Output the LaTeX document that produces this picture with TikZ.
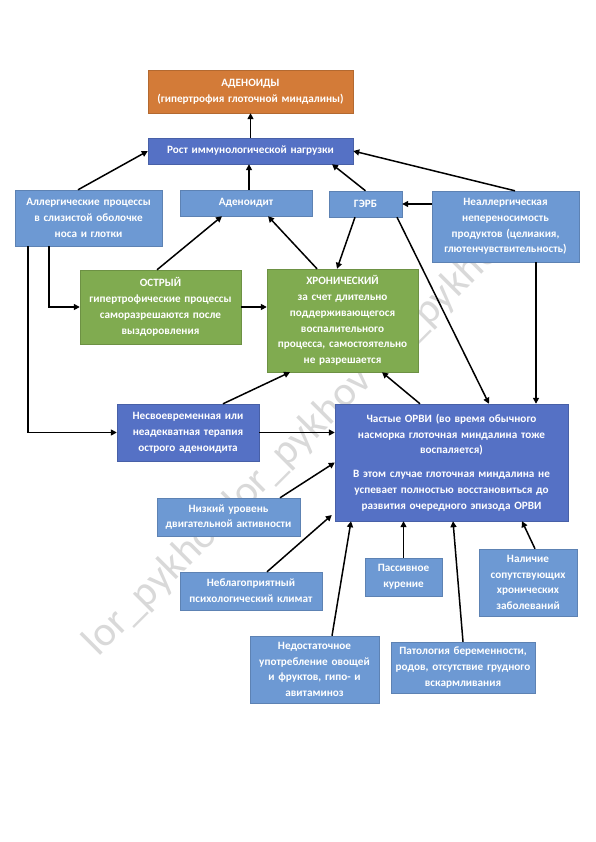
\documentclass[tikz,border=0pt]{standalone}
\usepackage{fontspec}
\setmainfont{Carlito}
\usetikzlibrary{arrows.meta}

\definecolor{orangebox}{HTML}{D37B38}
\definecolor{darkblue}{HTML}{5571C5}
\definecolor{lightblue}{HTML}{6D99D3}
\definecolor{greenbox}{HTML}{80AB50}

\begin{document}
\begin{tikzpicture}[x=1pt, y=-1pt,
    base/.style={inner sep=0pt, align=center, text=white,
        font=\bfseries\fontsize{11.2}{15.8}\selectfont},
    orangecell/.style={base, fill=orangebox, draw=orangebox!85!black, line width=0.4pt},
    darkcell/.style={base, fill=darkblue, draw=darkblue!85!black, line width=0.4pt},
    lightcell/.style={base, fill=lightblue, draw=lightblue!85!black, line width=0.4pt},
    greencell/.style={base, fill=greenbox, draw=greenbox!85!black, line width=0.4pt},
    link/.style={line width=1.5pt, -{Triangle[length=6pt,width=6pt]}}]

    \fill[white] (0,0) rectangle (595,842);
    \useasboundingbox (0,0) rectangle (595,842);

    % watermark
    \node[anchor=west, rotate=45, text=gray!30, inner sep=0pt,
        font=\fontsize{42}{42}\selectfont] (wm) at (90,650) {lor\_pykhov lor\_pykhov lor\_pykhov};

    % top
    \node[orangecell, minimum width=205, minimum height=43, text width=205] (aden) at (250.5,91.5)
        {АДЕНОИДЫ\\(гипертрофия глоточной миндалины)};
    \node[darkcell, minimum width=205, minimum height=26, text width=205] (rost) at (250.5,151)
        {Рост иммунологической нагрузки};

    % causes row
    \node[lightcell, minimum width=147, minimum height=56, text width=147] (allerg) at (88.5,218)
        {Аллергические процессы\\в слизистой оболочке\\носа и глотки};
    \node[lightcell, minimum width=132, minimum height=26, text width=132] (adenoidit) at (246,203)
        {Аденоидит};
    \node[lightcell, minimum width=73, minimum height=26, text width=73] (gerb) at (365.5,204)
        {ГЭРБ};
    \node[lightcell, minimum width=147, minimum height=71, text width=147] (neall) at (505.5,226.5)
        {Неаллергическая\\непереносимость\\продуктов (целиакия,\\глютенчувствительность)};

    % forms
    \node[greencell, minimum width=161, minimum height=74, text width=161] (ostr) at (160.5,307)
        {ОСТРЫЙ\\гипертрофические процессы\\саморазрешаются после\\выздоровления};
    \node[greencell, minimum width=151, minimum height=103, text width=151] (hron) at (342.5,320.5)
        {ХРОНИЧЕСКИЙ\\за счет длительно\\поддерживающегося\\воспалительного\\процесса, самостоятельно\\не разрешается};

    % middle
    \node[darkcell, minimum width=142, minimum height=57, text width=142] (nesv) at (188,432.5)
        {Несвоевременная или\\неадекватная терапия\\острого аденоидита};
    \node[darkcell, minimum width=233, minimum height=117, text width=233] (orvi) at (451.5,462.5)
        {Частые ОРВИ (во время обычного\\насморка глоточная миндалина тоже\\воспаляется)\\[8pt]
        В этом случае глоточная миндалина не\\успевает полностью восстановиться до\\развития очередного эпизода ОРВИ};

    % risk factors
    \node[lightcell, minimum width=143, minimum height=38, text width=143] (nizk) at (228.5,517)
        {Низкий уровень\\двигательной активности};
    \node[lightcell, minimum width=142, minimum height=38, text width=142] (nebl) at (251,591)
        {Неблагоприятный\\психологический климат};
    \node[lightcell, minimum width=129, minimum height=67, text width=129] (nedost) at (314.5,669.5)
        {Недостаточное\\употребление овощей\\и фруктов, гипо- и\\авитаминоз};
    \node[lightcell, minimum width=77, minimum height=38, text width=77] (pass) at (403.5,577)
        {Пассивное\\курение};
    \node[lightcell, minimum width=144, minimum height=51, text width=144] (patol) at (463,667.5)
        {Патология беременности,\\родов, отсутствие грудного\\вскармливания};
    \node[lightcell, minimum width=98, minimum height=67, text width=98] (nalich) at (528,582.5)
        {Наличие\\сопутствующих\\хронических\\заболеваний};

    % arrows to the top
    \draw[link] (rost) -- (aden);
    \draw[link] ([xshift=-10.5pt]allerg.north) -- (rost.west);
    \draw[link] ([xshift=3pt]adenoidit.north) -- ([xshift=-1.5pt]rost.south);
    \draw[link] (gerb.north) -- ([xshift=81.5pt]rost.south);
    \draw[link] ([xshift=9.5pt]neall.north) -- (rost.east);
    \draw[link] (neall.west |- gerb.east) -- (gerb.east);

    % into the forms
    \draw[link] ([xshift=-3.5pt]ostr.north) -- ([xshift=-24pt]adenoidit.south);
    \draw[link] ([xshift=-25.5pt]hron.north) -- ([xshift=22pt]adenoidit.south);
    \draw[link] ([xshift=-10.5pt]gerb.south) -- ([xshift=-5.5pt]hron.north);
    \draw[link] ([xshift=31.5pt]gerb.south) -- ([xshift=37.5pt]orvi.north);
    \draw[link] ([xshift=-39.5pt]allerg.south) |- (ostr.west);
    \draw[link] ([xshift=-60.5pt]allerg.south) |- (nesv.west);
    \draw[link] (ostr.east) -- (ostr.east -| hron.west);

    % middle
    \draw[link] ([xshift=35pt]nesv.north) -- ([xshift=-52.5pt]hron.south);
    \draw[link] ([xshift=-31.5pt]orvi.north) -- ([xshift=39.5pt]hron.south);
    \draw[link] (nesv.east) -- (nesv.east -| orvi.west);
    \draw[link] ([xshift=30.5pt]neall.south) -- ([xshift=84.5pt]orvi.north);

    % risk factors
    \draw[link] ([xshift=51.5pt]nizk.north) -- (orvi.west);
    \draw[link] ([xshift=16pt]nebl.north) -- ([xshift=-3pt,yshift=-52.5pt]orvi.west);
    \draw[link] ([xshift=17.5pt]nedost.north) -- ([xshift=-100.5pt]orvi.south);
    \draw[link] (pass.north) -- (pass.north |- orvi.south);
    \draw[link] (patol.north) -- ([xshift=1.5pt]orvi.south);
    \draw[link] ([xshift=7pt]nalich.north) -- ([xshift=70.5pt]orvi.south);

\end{tikzpicture}
\end{document}
